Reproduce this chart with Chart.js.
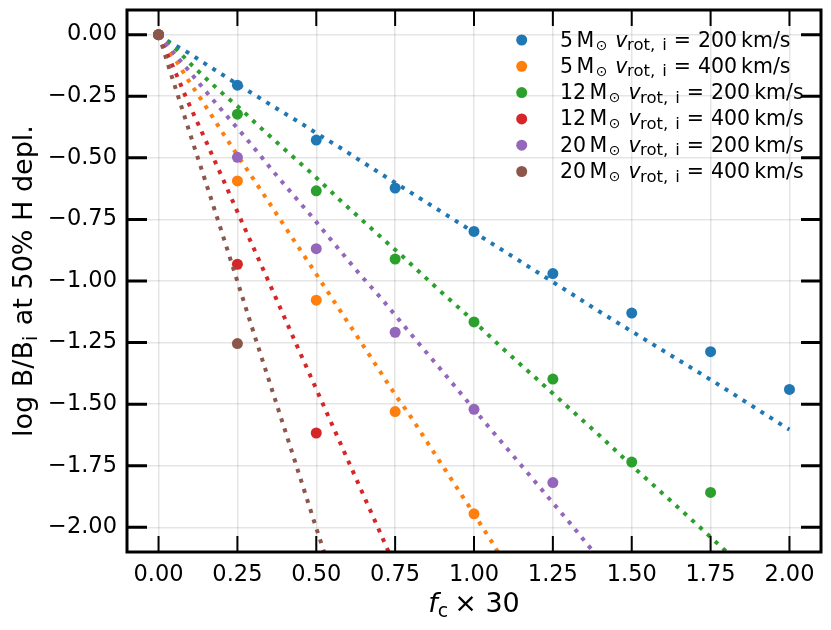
<!DOCTYPE html>
<html>
<head>
<meta charset="utf-8">
<script src="https://cdn.jsdelivr.net/npm/chart.js@4.4.1/dist/chart.umd.min.js"></script>
<style>
  html, body { margin: 0; padding: 0; background: #fff; }
  #wrap { width: 831px; height: 630px; }
</style>
</head>
<body>
<div id="wrap"><canvas id="chart" width="831" height="630"></canvas></div>
<script>
// tick values
const xTicks = [0, 0.25, 0.5, 0.75, 1.0, 1.25, 1.5, 1.75, 2.0];
const yTicks = [0, -0.25, -0.5, -0.75, -1.0, -1.25, -1.5, -1.75, -2.0];

// legend pieces
const masses = ['5', '5', '12', '12', '20', '20'];
const vrots = ['200', '400', '200', '400', '200', '400'];
const colors = ['#1f77b4', '#ff7f0e', '#2ca02c', '#d62728', '#9467bd', '#8c564b'];

// f_c x 30 sampling of the models
const fcValues = [0, 0.25, 0.5, 0.75, 1.0, 1.25, 1.5, 1.75, 2.0];

// log B/B_i at 50% H depletion (models)
const m5v200 = [0, -0.205, -0.428, -0.623, -0.799, -0.970, -1.130, -1.287, -1.440];
const m5v400 = [0, -0.594, -1.078, -1.530, -1.945];
const m12v200 = [0, -0.323, -0.634, -0.911, -1.166, -1.398, -1.735, -1.858];
const m12v400 = [0, -0.932, -1.617];
const m20v200 = [0, -0.498, -0.869, -1.208, -1.521, -1.818];
const m20v400 = [0, -1.254];

// fitted relations as [x, y]
const fit5v200 = [[0,0],[0.034,-0.030],[0.095,-0.074],[0.155,-0.124],[0.214,-0.172],[0.272,-0.219],
  [0.332,-0.266],[0.391,-0.313],[0.452,-0.360],[0.510,-0.408],[0.571,-0.455],[0.628,-0.502],
  [0.716,-0.574],[0.837,-0.671],[0.951,-0.763],[1.072,-0.860],[1.192,-0.957],[1.308,-1.051],
  [1.396,-1.123],[1.757,-1.406],[1.874,-1.501],[1.993,-1.598],[2.0,-1.603]];
const fit5v400 = [[0,0],[0.063,-0.120],[0.097,-0.190],[0.121,-0.236],[0.155,-0.302],[0.193,-0.378],
  [0.240,-0.470],[0.331,-0.644],[0.407,-0.792],[0.484,-0.941],[0.561,-1.092],[0.638,-1.241],
  [0.753,-1.467],[0.793,-1.538],[0.888,-1.726],[0.983,-1.912],[1.059,-2.064],[1.080,-2.110]];
const fit12v200 = [[0,0],[0.060,-0.064],[0.108,-0.127],[0.159,-0.188],[0.212,-0.249],[0.264,-0.306],
  [0.314,-0.367],[0.367,-0.428],[0.420,-0.489],[0.473,-0.549],[0.522,-0.607],[0.573,-0.669],
  [0.679,-0.792],[0.782,-0.910],[0.885,-1.032],[0.988,-1.150],[1.091,-1.274],[1.195,-1.393],
  [1.403,-1.633],[1.503,-1.753],[1.609,-1.875],[1.713,-1.996],[1.791,-2.088],[1.820,-2.120]];
const fit12v400 = [[0,0],[0.030,-0.085],[0.060,-0.172],[0.087,-0.255],[0.116,-0.336],[0.145,-0.417],
  [0.173,-0.498],[0.203,-0.583],[0.259,-0.745],[0.344,-0.988],[0.443,-1.275],[0.571,-1.643],
  [0.700,-2.014],[0.726,-2.090],[0.740,-2.130]];
const fit20v200 = [[0,0],[0.050,-0.077],[0.095,-0.145],[0.140,-0.215],[0.184,-0.282],[0.230,-0.350],
  [0.275,-0.417],[0.319,-0.485],[0.364,-0.556],[0.409,-0.624],[0.477,-0.725],[0.545,-0.830],
  [0.636,-0.970],[0.705,-1.069],[0.816,-1.240],[0.906,-1.376],[1.040,-1.582],[1.176,-1.788],
  [1.311,-1.993],[1.376,-2.095],[1.400,-2.130]];
const fit20v400 = [[0,0],[0.013,-0.050],[0.034,-0.138],[0.066,-0.266],[0.108,-0.435],[0.161,-0.644],
  [0.215,-0.860],[0.310,-1.244],[0.417,-1.670],[0.502,-2.011],[0.530,-2.120]];

const modelSets = [m5v200, m5v400, m12v200, m12v400, m20v200, m20v400];
const fitSets = [fit5v200, fit5v400, fit12v200, fit12v400, fit20v200, fit20v400];

const FONT = "'DejaVu Sans', 'Liberation Sans', sans-serif";
const fmtTick = v => v.toFixed(2).replace('-', '\u2212');

// datasets: for each series scatter then its fit, later ones on top
const datasets = [];
let drawIdx = 0;
modelSets.forEach((vals, i) => {
  datasets.push({
    type: 'scatter',
    label: masses[i] + ' ' + vrots[i],
    data: vals.map((y, k) => ({x: fcValues[k], y: y})),
    backgroundColor: colors[i],
    borderWidth: 0,
    pointRadius: 5.5,
    pointHoverRadius: 5.5,
    order: 100 - (drawIdx++),
    clip: false
  });
  datasets.push({
    type: 'line',
    label: 'fit ' + i,
    data: fitSets[i].map(p => ({x: p[0], y: p[1]})),
    borderColor: colors[i],
    borderWidth: 4,
    borderDash: [4, 6.6],
    borderCapStyle: 'butt',
    pointRadius: 0,
    fill: false,
    tension: 0,
    order: 100 - (drawIdx++),
    clip: 0
  });
});

// draw a run of text pieces [{t, font, dy}] starting at x, baseline y
function runWidth(ctx, runs){
  let w = 0;
  for(const r of runs){ ctx.font = r.font; w += ctx.measureText(r.t).width + (r.gap || 0); }
  return w;
}
function drawRuns(ctx, runs, x, y){
  for(const r of runs){
    ctx.font = r.font;
    ctx.fillText(r.t, x, y + (r.dy || 0));
    x += ctx.measureText(r.t).width + (r.gap || 0);
  }
}

const framePlugin = {
  id: 'frame',
  afterDraw(chart){
    const ctx = chart.ctx;
    const a = chart.chartArea;
    const xs = chart.scales.x, ys = chart.scales.y;
    ctx.save();
    ctx.strokeStyle = '#000';
    // inward ticks on all sides
    ctx.lineWidth = 2;
    for(const v of xTicks){
      const px = xs.getPixelForValue(v);
      ctx.beginPath();
      ctx.moveTo(px, a.bottom); ctx.lineTo(px, a.bottom - 16);
      ctx.moveTo(px, a.top); ctx.lineTo(px, a.top + 16);
      ctx.stroke();
    }
    ctx.lineWidth = 3;
    for(const v of yTicks){
      const py = ys.getPixelForValue(v);
      ctx.beginPath();
      ctx.moveTo(a.left, py); ctx.lineTo(a.left + 20, py);
      ctx.moveTo(a.right, py); ctx.lineTo(a.right - 20, py);
      ctx.stroke();
    }
    ctx.lineWidth = 3;
    ctx.strokeRect(a.left, a.top, a.right - a.left, a.bottom - a.top);

    ctx.fillStyle = '#000';
    ctx.textBaseline = 'alphabetic';
    ctx.textAlign = 'left';

    // x axis title
    const xr = [
      {t: 'f', font: 'italic 27px ' + FONT},
      {t: 'c', font: '19px ' + FONT, dy: 5, gap: 6},
      {t: '\u00d7 30', font: '27px ' + FONT}
    ];
    const cx = (a.left + a.right) / 2;
    drawRuns(ctx, xr, cx - runWidth(ctx, xr) / 2, 612);

    // y axis title
    const yr = [
      {t: 'log B/B', font: '27px ' + FONT},
      {t: 'i', font: '19px ' + FONT, dy: 5, gap: 2},
      {t: ' at 50% H depl.', font: '27px ' + FONT}
    ];
    ctx.save();
    ctx.translate(32, (a.top + a.bottom) / 2);
    ctx.rotate(-Math.PI / 2);
    drawRuns(ctx, yr, -runWidth(ctx, yr) / 2, 0);
    ctx.restore();

    // legend
    for(let i = 0; i < masses.length; i++){
      const my = 40 + i * 26.3;
      ctx.beginPath();
      ctx.fillStyle = colors[i];
      ctx.arc(521.7, my, 5.5, 0, Math.PI * 2);
      ctx.fill();
      ctx.fillStyle = '#000';
      const runs = [
        {t: masses[i], font: '20.5px ' + FONT, gap: 3.4},
        {t: 'M', font: '20.5px ' + FONT, gap: 1.5},
        {t: '\u2299', font: '14px ' + FONT, dy: 3, gap: 8},
        {t: 'v', font: 'italic 20.5px ' + FONT, gap: -0.5},
        {t: 'rot,', font: '16.5px ' + FONT, dy: 3.5, gap: 7},
        {t: 'i', font: '16.5px ' + FONT, dy: 3.5, gap: 7},
        {t: '=', font: '20.5px ' + FONT, gap: 7},
        {t: vrots[i], font: '20.5px ' + FONT, gap: 4},
        {t: 'km/s', font: '20.5px ' + FONT}
      ];
      drawRuns(ctx, runs, 560, my + 6.5);
    }
    ctx.restore();
  }
};

new Chart(document.getElementById('chart'), {
  data: { datasets: datasets },
  options: {
    responsive: false,
    animation: false,
    events: [],
    layout: { padding: { top: 10, right: 10, left: 0, bottom: 0 } },
    plugins: { legend: { display: false }, tooltip: { enabled: false } },
    scales: {
      x: {
        type: 'linear',
        min: -0.1, max: 2.1,
        afterBuildTicks: s => { s.ticks = xTicks.map(v => ({value: v})); },
        afterFit: s => { s.height = 78; s.paddingLeft = 0; s.paddingRight = 0; },
        grid: { color: 'rgba(0,0,0,0.1)', lineWidth: 1.5, drawTicks: false },
        border: { display: false },
        ticks: { font: { family: FONT, size: 22.5 }, color: '#000', padding: 10, maxRotation: 0,
          callback: v => fmtTick(v) }
      },
      y: {
        type: 'linear',
        min: -2.1, max: 0.1,
        afterBuildTicks: s => { s.ticks = yTicks.map(v => ({value: v})); },
        afterFit: s => { s.width = 127; s.paddingTop = 0; s.paddingBottom = 0; },
        grid: { color: 'rgba(0,0,0,0.1)', lineWidth: 1.5, drawTicks: false },
        border: { display: false },
        ticks: { font: { family: FONT, size: 22.5 }, color: '#000', padding: 10,
          callback: v => fmtTick(v) }
      }
    }
  },
  plugins: [framePlugin]
});
</script>
</body>
</html>
